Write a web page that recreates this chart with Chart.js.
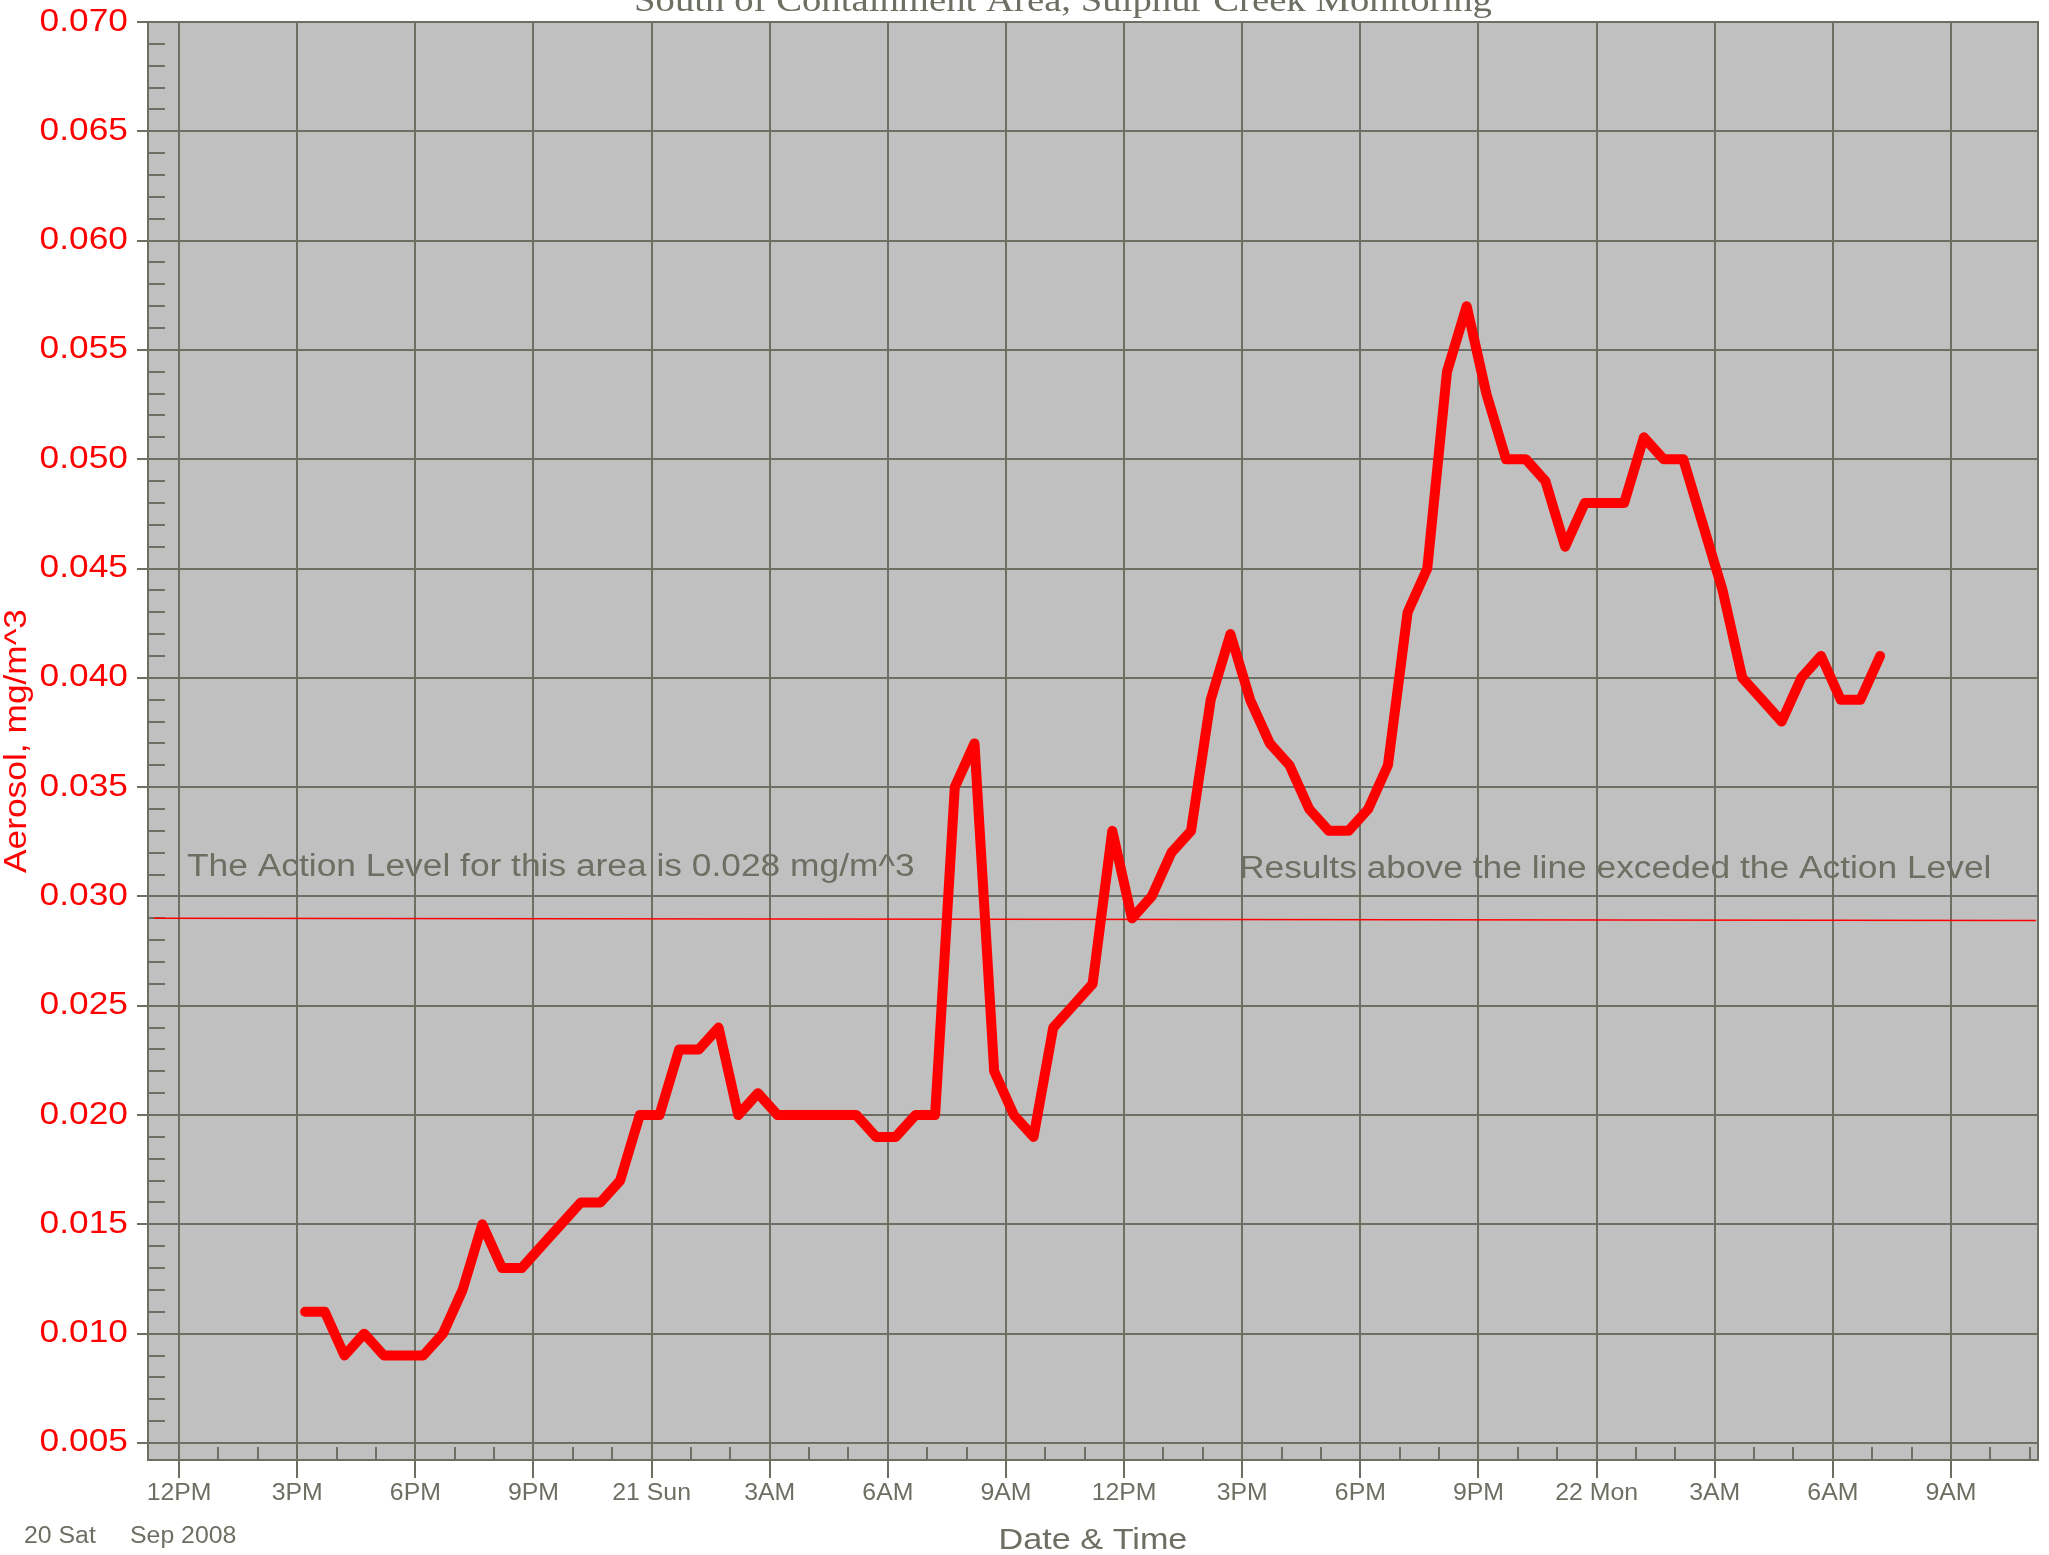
<!DOCTYPE html>
<html>
<head>
<meta charset="utf-8">
<title>Aerosol - Sulphur Creek Monitoring</title>
<script src="https://cdn.jsdelivr.net/npm/chart.js@4.4.1/dist/chart.umd.min.js"></script>
<style>
  html, body { margin: 0; padding: 0; background: #fff; }
  #wrap { width: 2049px; height: 1555px; }
</style>
</head>
<body>
<div id="wrap"><canvas id="aerosolChart" width="2049" height="1555"></canvas></div>
<script>
// hours counted from Sep 20 2008 00:00
const sampleHours = [
  15.2, 15.7, 16.2, 16.7, 17.2, 17.7, 18.2, 18.7, 19.2, 19.7,
  20.2, 20.7, 21.2, 21.7, 22.2, 22.7, 23.2, 23.7, 24.2, 24.7,
  25.2, 25.7, 26.2, 26.7, 27.2, 27.7, 28.2, 28.7, 29.2, 29.7,
  30.2, 30.7, 31.2, 31.7, 32.2, 32.7, 33.2, 33.7, 34.2, 34.7,
  35.2, 35.7, 36.2, 36.7, 37.2, 37.7, 38.2, 38.7, 39.2, 39.7,
  40.2, 40.7, 41.2, 41.7, 42.2, 42.7, 43.2, 43.7, 44.2, 44.7,
  45.2, 45.7, 46.2, 46.7, 47.2, 47.7, 48.2, 48.7, 49.2, 49.7,
  50.2, 50.7, 51.2, 51.7, 52.2, 52.7, 53.2, 53.7, 54.2, 54.7,
  55.2
];
const aerosol = [
  0.011, 0.011, 0.009, 0.010, 0.009, 0.009, 0.009, 0.010, 0.012, 0.015,
  0.013, 0.013, 0.014, 0.015, 0.016, 0.016, 0.017, 0.020, 0.020, 0.023,
  0.023, 0.024, 0.020, 0.021, 0.020, 0.020, 0.020, 0.020, 0.020, 0.019,
  0.019, 0.020, 0.020, 0.035, 0.037, 0.022, 0.020, 0.019, 0.024, 0.025,
  0.026, 0.033, 0.029, 0.030, 0.032, 0.033, 0.039, 0.042, 0.039, 0.037,
  0.036, 0.034, 0.033, 0.033, 0.034, 0.036, 0.043, 0.045, 0.054, 0.057,
  0.053, 0.050, 0.050, 0.049, 0.046, 0.048, 0.048, 0.048, 0.051, 0.050,
  0.050, 0.047, 0.044, 0.040, 0.039, 0.038, 0.040, 0.041, 0.039, 0.039,
  0.041
];
const actionLineHours = [11.36, 59.16];
const actionLineValues = [0.0290, 0.0289];

const xTickHours = [12, 15, 18, 21, 24, 27, 30, 33, 36, 39, 42, 45, 48, 51, 54, 57];
const xTickLabels = ['12PM', '3PM', '6PM', '9PM', '21 Sun', '3AM', '6AM', '9AM',
                     '12PM', '3PM', '6PM', '9PM', '22 Mon', '3AM', '6AM', '9AM'];
const yTickValues = [0.005, 0.010, 0.015, 0.020, 0.025, 0.030, 0.035,
                     0.040, 0.045, 0.050, 0.055, 0.060, 0.065, 0.070];

const gridColor = '#6e6e63';
const textColor = '#6e6e63';
const plotBg = '#c0c0c0';
const sans = "'Liberation Sans', Arial, sans-serif";
const serif = "'Liberation Serif', 'Times New Roman', serif";
const TEXT_STRETCH = 1.14;

function drawText(ctx, str, x, y, opts) {
  ctx.save();
  ctx.font = opts.font;
  ctx.fillStyle = opts.color || textColor;
  ctx.textAlign = opts.align || 'left';
  ctx.textBaseline = opts.baseline || 'alphabetic';
  ctx.translate(x, y);
  if (opts.rotate) ctx.rotate(opts.rotate);
  ctx.scale(opts.stretch || TEXT_STRETCH, 1);
  ctx.fillText(str, 0, 0);
  ctx.restore();
}

const plotFrame = {
  id: 'plotFrame',
  beforeDraw(chart) {
    const { ctx, chartArea: a } = chart;
    ctx.save();
    ctx.fillStyle = plotBg;
    ctx.fillRect(a.left, a.top, a.right - a.left, a.bottom - a.top);
    ctx.restore();
  },
  beforeDatasetsDraw(chart) {
    // minor ticks: 0.001 on the y axis, 1 hour on the x axis
    const { ctx, chartArea: a, scales } = chart;
    ctx.save();
    ctx.strokeStyle = gridColor;
    ctx.lineWidth = 2;
    ctx.beginPath();
    for (let k = 5; k <= 70; k++) {
      if (k % 5 === 0) continue;
      const y = Math.round(scales.y.getPixelForValue(k / 1000));
      ctx.moveTo(a.left, y);
      ctx.lineTo(a.left + 17, y);
    }
    for (let h = 12; h <= 59; h++) {
      if (h % 3 === 0) continue;
      const x = Math.round(scales.x.getPixelForValue(h));
      ctx.moveTo(x, a.bottom);
      ctx.lineTo(x, a.bottom - 13);
    }
    ctx.stroke();
    ctx.restore();
  },
  afterDraw(chart) {
    const { ctx, chartArea: a, scales } = chart;
    ctx.save();
    ctx.strokeStyle = gridColor;
    ctx.lineWidth = 2;
    ctx.strokeRect(a.left, a.top, a.right - a.left, a.bottom - a.top);
    ctx.restore();

    scales.y.ticks.forEach(t => {
      drawText(ctx, t.value.toFixed(3), a.left - 20, scales.y.getPixelForValue(t.value),
        { font: '31px ' + sans, color: '#ff0000', align: 'right', baseline: 'middle' });
    });
    scales.x.ticks.forEach(t => {
      const lbl = xTickLabels[xTickHours.indexOf(t.value)];
      drawText(ctx, lbl, scales.x.getPixelForValue(t.value), a.bottom + 40,
        { font: '23px ' + sans, align: 'center', stretch: 1.08 });
    });

    drawText(ctx, 'South of Containment Area, Sulphur Creek Monitoring', 1063, 11,
      { font: '34px ' + serif, align: 'center' });
    drawText(ctx, 'Aerosol, mg/m^3', 26, (a.top + a.bottom) / 2,
      { font: '31px ' + sans, color: '#ff0000', align: 'center', rotate: -Math.PI / 2 });
    drawText(ctx, 'Date & Time', (a.left + a.right) / 2, 1549,
      { font: '30px ' + sans, align: 'center' });
    drawText(ctx, '20 Sat', 24, 1543, { font: '23px ' + sans, stretch: 1.08 });
    drawText(ctx, 'Sep 2008', 130, 1543, { font: '23px ' + sans, stretch: 1.08 });
    drawText(ctx, 'The Action Level for this area is 0.028 mg/m^3', 187, 876,
      { font: '31px ' + sans });
    drawText(ctx, 'Results above the line exceded the Action Level', 1239, 878,
      { font: '31px ' + sans });
  }
};

new Chart(document.getElementById('aerosolChart'), {
  type: 'line',
  data: {
    datasets: [
      {
        label: 'Aerosol',
        data: sampleHours.map((h, i) => ({ x: h, y: aerosol[i] })),
        borderColor: '#ff0000',
        borderWidth: 10,
        borderJoinStyle: 'round',
        borderCapStyle: 'round',
        pointRadius: 0,
        tension: 0,
        order: 0
      },
      {
        label: 'Action Level',
        data: actionLineHours.map((h, i) => ({ x: h, y: actionLineValues[i] })),
        borderColor: '#ff0000',
        borderWidth: 1.5,
        pointRadius: 0,
        order: 1
      }
    ]
  },
  options: {
    responsive: false,
    animation: false,
    devicePixelRatio: 1,
    events: [],
    layout: { padding: { top: 22, right: 11, left: 0, bottom: 0 } },
    plugins: { legend: { display: false }, tooltip: { enabled: false } },
    scales: {
      x: {
        type: 'linear',
        min: 11.21,
        max: 59.21,
        afterBuildTicks: s => { s.ticks = xTickHours.map(v => ({ value: v })); },
        afterFit: s => { s.height = 95; },
        ticks: { display: false },
        grid: { color: gridColor, lineWidth: 2, drawTicks: true, tickLength: 18, tickColor: gridColor },
        border: { display: true, color: gridColor, width: 2 }
      },
      y: {
        type: 'linear',
        min: 0.00422,
        max: 0.070,
        afterBuildTicks: s => { s.ticks = yTickValues.map(v => ({ value: v })); },
        afterFit: s => { s.width = 148; },
        ticks: { display: false },
        grid: { color: gridColor, lineWidth: 2, drawTicks: true, tickLength: 11, tickColor: gridColor },
        border: { display: true, color: gridColor, width: 2 }
      }
    }
  },
  plugins: [plotFrame]
});
</script>
</body>
</html>
